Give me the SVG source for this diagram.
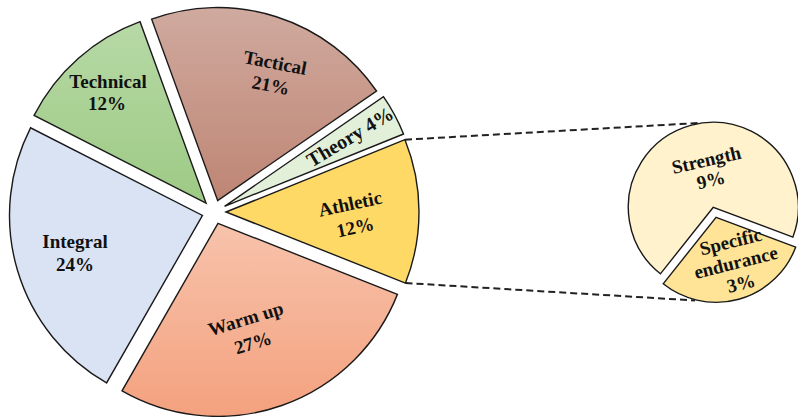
<svg xmlns="http://www.w3.org/2000/svg" width="798" height="417" viewBox="0 0 798 417">
<defs>
<linearGradient id="gWarm" x1="0" y1="0" x2="0" y2="1"><stop offset="0" stop-color="#F7C3AC"/><stop offset="1" stop-color="#F4A17E"/></linearGradient>
<linearGradient id="gTech" x1="0" y1="0" x2="0" y2="1"><stop offset="0" stop-color="#B7D9A6"/><stop offset="1" stop-color="#9DCA84"/></linearGradient>
<linearGradient id="gTact" x1="0" y1="0" x2="0" y2="1"><stop offset="0" stop-color="#D0AA9F"/><stop offset="1" stop-color="#BE8574"/></linearGradient>
<style>
.s{stroke:#1a1a1a;stroke-width:1.4;stroke-linejoin:miter}
.t{font-family:"Liberation Serif","Times New Roman",serif;font-weight:bold;font-size:19px;fill:#111;text-anchor:middle}
.d{fill:none;stroke:#222;stroke-width:2;stroke-dasharray:7 4}
</style>
</defs>
<rect width="798" height="417" fill="#fff"/>
<g id="connectors">
<line class="d" x1="405" y1="139.7" x2="698.5" y2="123"/>
<line class="d" x1="405.5" y1="283" x2="695" y2="300.5"/>
</g>
<g id="athletic">
<path class="s" fill="#FFD966" d="M226,212 L404.95,139.7 A193,193 0 0 1 405.45,283.04 Z"/>
<g transform="translate(351.5,210) rotate(-12)"><text class="t" x="0" y="0">Athletic</text><text class="t" x="0" y="24">12%</text></g>
</g>
<g id="warmup">
<path class="s" fill="url(#gWarm)" d="M217.97,223.33 L397.42,294.37 A193,193 0 0 1 122.05,390.82 Z"/>
<g transform="translate(247.5,325) rotate(-17)"><text class="t" x="0" y="0">Warm up</text><text class="t" x="0" y="25">27%</text></g>
</g>
<g id="integral">
<path class="s" fill="#DAE3F3" d="M202.5,215.43 L106.58,382.92 A193,193 0 0 1 30.54,127.81 Z"/>
<text class="t" x="75" y="248">Integral</text><text class="t" x="75" y="271">24%</text>
</g>
<g id="technical">
<path class="s" fill="url(#gTech)" d="M206.05,203.01 L34.09,115.39 A193,193 0 0 1 140.04,21.65 Z"/>
<text class="t" x="108" y="88">Technical</text><text class="t" x="107" y="110">12%</text>
</g>
<g id="tactical">
<path class="s" fill="url(#gTact)" d="M217.65,200.57 L151.64,19.21 A193,193 0 0 1 376.51,90.98 Z"/>
<g transform="translate(274,69) rotate(11)"><text class="t" x="0" y="0">Tactical</text><text class="t" x="0" y="23">21%</text></g>
</g>
<g id="theory">
<path class="s" fill="#E2F0D9" d="M224.57,206.31 L383.43,96.72 A193,193 0 0 1 403.52,134.01 Z"/>
<g transform="translate(353.4,142.6) rotate(-31)"><text class="t" x="0" y="0" style="font-size:20px">Theory 4%</text></g>
</g>
<g id="strength">
<path class="s" fill="#FFF2CC" d="M713.3,207.3 L660.39,273.82 A85,85 0 1 1 792.92,237.07 Z"/>
<g transform="translate(707.8,166.2) rotate(-13)"><text class="t" x="0" y="0">Strength</text><text class="t" x="0" y="20.5">9%</text></g>
</g>
<g id="endurance">
<path class="s" fill="#FFE497" d="M716.1,217.3 L795.72,247.07 A85,85 0 0 1 663.19,283.82 Z"/>
<g transform="translate(732.2,247.8) rotate(-14)"><text class="t" x="0" y="0">Specific</text><text class="t" x="0" y="21.5">endurance</text><text class="t" x="0" y="43">3%</text></g>
</g>
</svg>
